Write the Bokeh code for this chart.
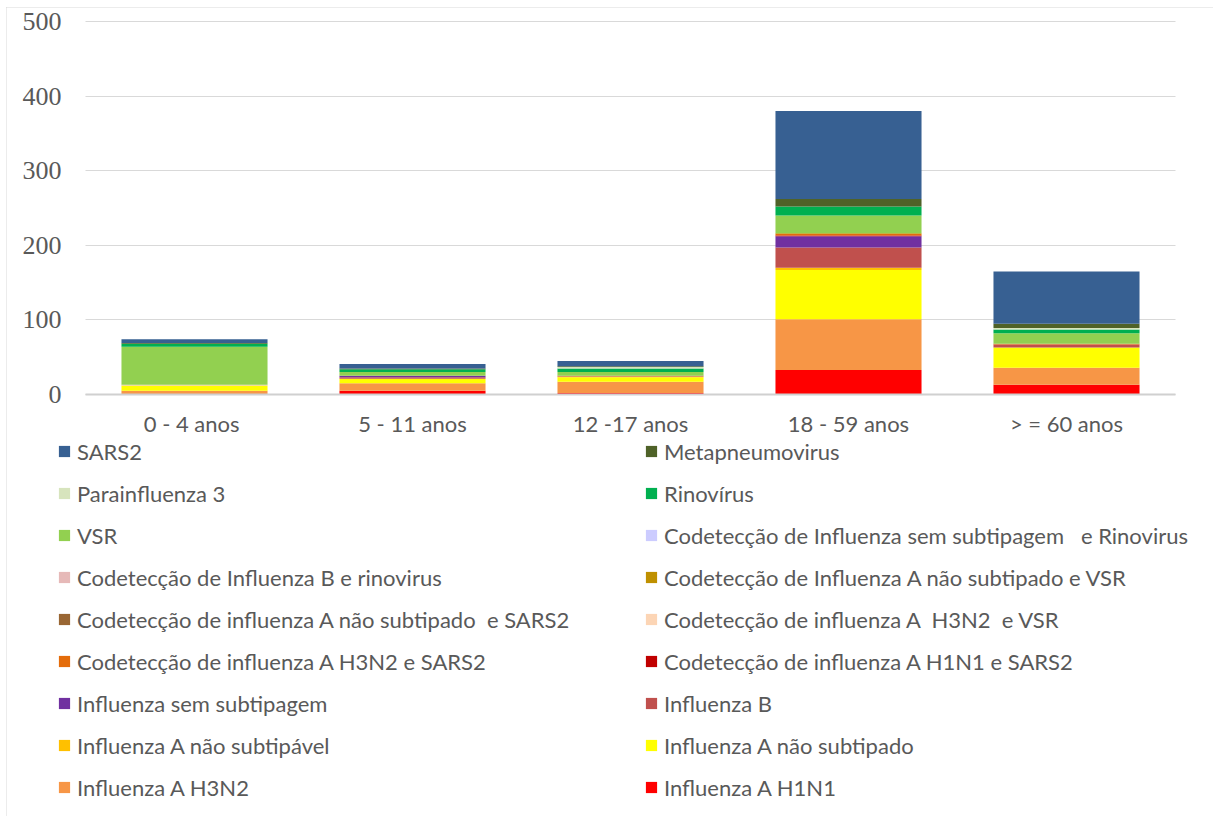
from bokeh.plotting import figure
from bokeh.models import (Range1d, Legend, LegendItem, FixedTicker, ColumnDataSource,
                          LinearAxis, Grid)
from bokeh.embed import file_html
from bokeh.resources import INLINE

categories = ["0 - 4  anos", "5 - 11 anos", "12 -17 anos", "18 - 59 anos", "> = 60 anos"]

# stacking order, bottom to top
h1n1 = [0, 5, 2, 33, 13]
h3n2 = [5, 10, 15, 68, 23]
a_nao_subtipado = [7, 6, 6, 66, 27]
a_nao_subtipavel = [0, 0, 1, 3, 0]
influenza_b = [0, 2, 1, 27, 4]
sem_subtipagem = [0, 2, 0, 15, 0]
cod_h1n1_sars2 = [0, 0, 0, 1, 0]
cod_h3n2_sars2 = [0, 0, 0, 2, 1]
cod_h3n2_vsr = [0, 0, 0, 0, 0]
cod_ans_sars2 = [0, 0, 0, 0, 0]
cod_ans_vsr = [0, 0, 0, 1, 0]
cod_b_rino = [1, 0, 0, 0, 0]
cod_sem_rino = [0, 0, 0, 0, 0]
vsr = [51, 5, 5, 24, 14]
rinovirus = [4, 4, 5, 12, 5]
parainfluenza3 = [0, 0, 2, 0, 2]
metapneumovirus = [1, 1, 1, 10, 6]
sars2 = [5, 6, 7, 118, 70]

y_ticks = [0, 100, 200, 300, 400, 500]

series_names = [
    "Influenza A H1N1", "Influenza A H3N2", "Influenza A não subtipado",
    "Influenza A não subtipável", "Influenza B", "Influenza sem subtipagem",
    "Codetecção de influenza A H1N1 e SARS2", "Codetecção de influenza A H3N2 e SARS2",
    "Codetecção de influenza A  H3N2  e VSR", "Codetecção de influenza A não subtipado  e SARS2",
    "Codetecção de Influenza A não subtipado e VSR", "Codetecção de Influenza B e rinovirus",
    "Codetecção de Influenza sem subtipagem   e Rinovirus", "VSR", "Rinovírus",
    "Parainfluenza 3", "Metapneumovirus", "SARS2",
]
series_values = [
    h1n1, h3n2, a_nao_subtipado, a_nao_subtipavel, influenza_b, sem_subtipagem,
    cod_h1n1_sars2, cod_h3n2_sars2, cod_h3n2_vsr, cod_ans_sars2, cod_ans_vsr,
    cod_b_rino, cod_sem_rino, vsr, rinovirus, parainfluenza3, metapneumovirus, sars2,
]
colors = [
    "#FF0000", "#F79646", "#FFFF00", "#FFC000", "#C0504D", "#7030A0",
    "#C00000", "#E46C0A", "#FCD5B5", "#996633", "#BF9000", "#E6B9B8",
    "#CCCCFF", "#92D050", "#00B050", "#D7E4BD", "#4F6228", "#376092",
]

n_cat = len(categories)
x_pos = list(range(n_cat))
keys = ["s%d" % i for i in range(len(series_names))]
data = {"x": x_pos}
for k, v in zip(keys, series_values):
    data[k] = v
source = ColumnDataSource(data)

# ---- geometry (pixels) ----
W, H = 1207, 809
left_px, right_px, top_px, zero_px = 79, 38, 14, 387
px_per_x = (W - left_px - right_px) / n_cat
px_per_y = (zero_px - top_px) / y_ticks[-1]
x_lo = -0.5 - left_px / px_per_x
x_hi = n_cat - 0.5 + right_px / px_per_x
y_hi = y_ticks[-1] + top_px / px_per_y
y_lo = -(H - zero_px) / px_per_y

p = figure(
    width=W, height=H, output_backend="svg", toolbar_location=None,
    x_range=Range1d(x_lo, x_hi), y_range=Range1d(y_lo, y_hi),
    x_axis_location=None, y_axis_location=None,
    min_border=0, min_border_left=0, min_border_right=0, min_border_top=0, min_border_bottom=0,
)
p.styles = {"outline": "1px solid #D9D9D9", "outline-offset": "-1px",
            "margin-left": "6px", "margin-top": "7px"}
p.outline_line_color = None
# drop the default grids; only the chart's own horizontal gridlines are wanted
p.center = [r for r in p.center if not isinstance(r, Grid)]

renderers = p.vbar_stack(keys, x="x", width=0.67, source=source, color=colors, line_width=0)

yticker = FixedTicker(ticks=y_ticks)
yaxis = LinearAxis(
    ticker=yticker, fixed_location=-0.5, bounds=(y_ticks[0], y_ticks[-1]),
    axis_line_color=None, major_tick_line_color=None, minor_tick_line_color=None,
    major_label_text_font="Liberation Serif", major_label_text_font_size="26px",
    major_label_text_color="#595959", major_label_standoff=18,
)
p.add_layout(yaxis, "left")

xaxis = LinearAxis(
    ticker=FixedTicker(ticks=x_pos),
    major_label_overrides={i: c for i, c in zip(x_pos, categories)},
    fixed_location=0, bounds=(-0.5, n_cat - 0.5),
    axis_line_color="#D0D0D0", axis_line_width=2,
    major_tick_line_color=None, minor_tick_line_color=None,
    major_label_text_font="Lato", major_label_text_font_size="22px",
    major_label_text_color="#595959", major_label_standoff=9,
)
p.add_layout(xaxis, "below")

if "cross_bounds" in Grid.properties():
    ygrid = Grid(dimension=1, ticker=yticker, grid_line_color="#D9D9D9", grid_line_width=1,
                 cross_bounds=(-0.5, n_cat - 0.5))
    p.add_layout(ygrid)
else:
    p.segment(x0=[-0.5] * len(y_ticks), x1=[n_cat - 0.5] * len(y_ticks), y0=y_ticks, y1=y_ticks,
              line_color="#D9D9D9", line_width=1, level="underlay")

items = [LegendItem(label=n, renderers=[r]) for n, r in zip(series_names, renderers)][::-1]
legend = Legend(
    items=items, orientation="horizontal", ncols=2, location=(51, 15.5),
    label_text_font="Lato", label_text_font_size="22px", label_text_color="#595959",
    glyph_width=14, glyph_height=14, label_standoff=6, label_height=27,
    label_width=552, spacing=15, padding=0, margin=0,
    border_line_color=None, background_fill_alpha=0,
)
p.add_layout(legend, "center")

open("out.html", "w").write(file_html(p, INLINE))
